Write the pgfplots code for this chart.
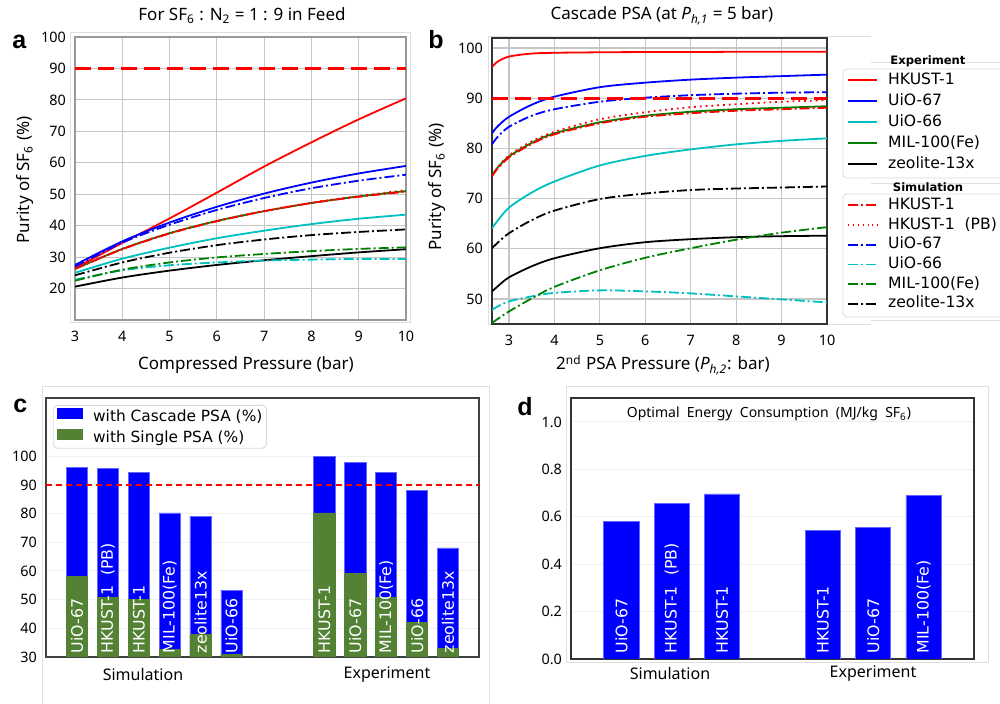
\documentclass[border=0pt]{standalone}
\usepackage{fontspec}
\setmainfont{Noto Sans}
\newfontfamily\djv{DejaVu Sans}
\newfontfamily\arialb{Liberation Sans}
\usepackage{pgfplots}
\pgfplotsset{compat=1.18}

\definecolor{mred}{RGB}{255,0,0}
\definecolor{mblue}{RGB}{0,0,255}
\definecolor{mcyan}{RGB}{0,191,191}
\definecolor{mgreen}{RGB}{0,128,0}
\definecolor{bargreen}{RGB}{84,130,53}

\newcommand{\fs}[1]{\fontsize{#1}{#1}\selectfont}

\pgfplotsset{
  every axis/.append style={
    /pgf/number format/assume math mode=true,
    tick label style={font=\fs{7.2}},
    tick style={draw=none},
  },
  dd/.style={dash pattern=on 5pt off 1.5pt on 1pt off 1.5pt},
  ln/.style={line width=0.9pt, no marks, smooth},
}
\tikzset{blab/.style={rotate=90, anchor=west, text=white, font=\djv\fs{7.9}, inner sep=0pt}}

\begin{document}
\begin{tikzpicture}[x=0.5pt,y=0.5pt]
\useasboundingbox (0,0) rectangle (1000,704);

% light frames of the sub figures
\draw[gray!25, line width=0.5pt] (70,671) rectangle (410,381);
\draw[gray!25, line width=0.5pt] (871,667) -- (488,667) -- (488,379) -- (871,379);
\draw[gray!25, line width=0.5pt] (871,641) -- (1000,641);
\draw[gray!25, line width=0.5pt] (871,520) -- (1000,520);
\draw[gray!25, line width=0.5pt] (871,383) -- (1000,383);
\draw[gray!25, line width=0.5pt] (42,-2) -- (42,317) -- (489,317) -- (489,-2);
\draw[gray!25, line width=0.5pt] (566,317) rectangle (988,41);

\coordinate (A) at (75,384);
\coordinate (B) at (492,380);
\coordinate (C) at (46,47);
\coordinate (D) at (571,45);
\coordinate (L1) at (847,631);
\coordinate (L2) at (847,506);

% ---------------- panel a
\begin{axis}[at={(A)}, anchor=south west, scale only axis,
  width=165.5pt, height=141.5pt,
  xmin=3, xmax=10, ymin=10, ymax=100,
  xtick={3,...,10}, ytick={20,30,...,100},
  grid=major, grid style={gray!45, line width=0.6pt},
  axis line style={gray!80, line width=0.6pt},
  yticklabel style={xshift=-1pt}, xticklabel style={yshift=-2pt}]
\addplot[ln, mred] coordinates {(3,26.5) (4,34.5) (5,42.3) (6,50.5) (7,58.8) (8,66.5) (9,73.8) (10,80.5)};
\addplot[ln, mblue] coordinates {(3,27.5) (4,35) (5,41) (6,46) (7,50.2) (8,53.7) (9,56.6) (10,59)};
\addplot[ln, mcyan] coordinates {(3,25) (4,29.5) (5,33) (6,36) (7,38.4) (8,40.5) (9,42.2) (10,43.5)};
\addplot[ln, mgreen] coordinates {(3,26.2) (4,32.6) (5,37.6) (6,41.5) (7,44.6) (8,47.2) (9,49.3) (10,51)};
\addplot[ln, black] coordinates {(3,20.6) (4,23.5) (5,25.7) (6,27.5) (7,29) (8,30.3) (9,31.5) (10,32.5)};
\addplot[ln, mred, dd] coordinates {(3,26.3) (4,32.5) (5,37.5) (6,41.4) (7,44.6) (8,47.2) (9,49.2) (10,50.8)};
\addplot[ln, mred, dotted] coordinates {(3,26.3) (4,32.6) (5,37.6) (6,41.5) (7,44.7) (8,47.3) (9,49.4) (10,51.3)};
\addplot[ln, mblue, dd] coordinates {(3,27) (4,34.6) (5,40.3) (6,45) (7,48.8) (8,51.9) (9,54.3) (10,56.2)};
\addplot[ln, mcyan, dd] coordinates {(3,22.8) (4,25.8) (5,27.4) (6,28.3) (7,28.9) (8,29.2) (9,29.4) (10,29.4)};
\addplot[ln, mgreen, dd] coordinates {(3,22.5) (4,26) (5,28.3) (6,29.9) (7,31) (8,31.9) (9,32.6) (10,33.1)};
\addplot[ln, black, dd] coordinates {(3,24.2) (4,28.3) (5,31.4) (6,33.8) (7,35.6) (8,37) (9,38) (10,38.8)};
\addplot[mred, line width=1.5pt, dash pattern=on 8pt off 3.5pt, no marks] coordinates {(3,90) (10,90)};
\end{axis}

% ---------------- panel b
\begin{axis}[at={(B)}, anchor=south west, scale only axis,
  width=167.5pt, height=143pt,
  xmin=2.625, xmax=10, ymin=45, ymax=102,
  xtick={3,...,10}, ytick={50,60,...,100},
  grid=major, grid style={gray!45, line width=0.6pt},
  axis line style={black!80, line width=0.6pt},
  yticklabel style={xshift=-1pt}, xticklabel style={yshift=-2pt}]
\addplot[ln, mred] coordinates {(2.625,96.2) (2.75,97.3) (3,98.3) (3.5,98.9) (4,99.05) (5,99.15) (6,99.2) (7,99.2) (8,99.25) (9,99.25) (10,99.25)};
\addplot[ln, mblue] coordinates {(2.625,83) (2.75,84.4) (3,86.3) (3.5,88.7) (4,90.3) (5,92.2) (6,93.1) (7,93.7) (8,94.1) (9,94.4) (10,94.7)};
\addplot[ln, mcyan] coordinates {(2.625,64.1) (2.75,65.6) (3,68.2) (3.5,71.2) (4,73.4) (5,76.6) (6,78.5) (7,79.8) (8,80.8) (9,81.5) (10,82.0)};
\addplot[ln, mgreen] coordinates {(2.625,74.6) (2.75,76.2) (3,78.4) (3.5,81.1) (4,83.0) (5,85.2) (6,86.5) (7,87.3) (8,87.8) (9,88.1) (10,88.4)};
\addplot[ln, black] coordinates {(2.625,51.5) (2.75,52.5) (3,54.3) (3.5,56.5) (4,58.1) (5,60.1) (6,61.3) (7,61.9) (8,62.3) (9,62.5) (10,62.6)};
\addplot[ln, mred, dd] coordinates {(2.625,74.4) (2.75,76.0) (3,78.2) (3.5,80.9) (4,82.8) (5,85.0) (6,86.3) (7,87.0) (8,87.5) (9,87.8) (10,88.1)};
\addplot[ln, mred, dotted] coordinates {(2.625,74.5) (2.75,76.2) (3,78.6) (3.5,81.4) (4,83.3) (5,85.8) (6,87.2) (7,88.2) (8,88.8) (9,89.3) (10,89.6)};
\addplot[ln, mblue, dd] coordinates {(2.625,80.8) (2.75,82.3) (3,84.3) (3.5,86.5) (4,87.8) (5,89.3) (6,90.1) (7,90.6) (8,90.9) (9,91.1) (10,91.2)};
\addplot[ln, mcyan, dd] coordinates {(2.625,47.8) (2.75,48.5) (3,49.5) (3.5,50.5) (4,51.2) (5,51.7) (6,51.5) (7,51.1) (8,50.5) (9,49.9) (10,49.3)};
\addplot[ln, mgreen, dd] coordinates {(2.625,45.2) (2.75,46.0) (3,47.5) (3.5,50.1) (4,52.4) (5,55.7) (6,58.2) (7,60.1) (8,61.8) (9,63.2) (10,64.3)};
\addplot[ln, black, dd] coordinates {(2.625,60.1) (2.75,61.2) (3,63.1) (3.5,65.7) (4,67.6) (5,69.9) (6,71.0) (7,71.7) (8,72.0) (9,72.2) (10,72.4)};
\addplot[mred, line width=1.5pt, dash pattern=on 8pt off 3.5pt, no marks] coordinates {(2.625,90) (10,90)};
\end{axis}

% legends of panel b
\pgfplotsset{blegend/.style={hide axis, scale only axis, width=1pt, height=1pt,
  xmin=0, xmax=1, ymin=0, ymax=1, anchor=north west,
  legend style={at={(0,1)}, anchor=north west, draw=none, fill=none,
    font=\djv\fs{7.8}, inner sep=0pt, column sep=5pt,
    nodes={inner sep=0pt, text height=5.5pt, text depth=1.5pt}},
  legend cell align=left,
  legend image code/.code={\draw[##1, line width=0.9pt] (0pt,0pt) -- (14.5pt,0pt);}}}
\draw[gray!30, rounded corners=2pt] (843,635) rectangle (1010,526);
\draw[gray!30, rounded corners=2pt] (843,510) rectangle (1010,387);
\node[font=\djv\bfseries\fs{5.8}] at (928,643) {Experiment};
\node[font=\djv\bfseries\fs{5.8}] at (928,517) {Simulation};
\begin{axis}[blegend, at={(L1)}, legend style={row sep=3.5pt}]
\addlegendimage{mred}\addlegendentry{HKUST-1}
\addlegendimage{mblue}\addlegendentry{UiO-67}
\addlegendimage{mcyan}\addlegendentry{UiO-66}
\addlegendimage{mgreen}\addlegendentry{MIL-100(Fe)}
\addlegendimage{black}\addlegendentry{zeolite-13x}
\end{axis}
\begin{axis}[blegend, at={(L2)}, legend style={row sep=2.85pt}]
\addlegendimage{mred, dd}\addlegendentry{HKUST-1}
\addlegendimage{mred, dotted}\addlegendentry{HKUST-1\ \ (PB)}
\addlegendimage{mblue, dd}\addlegendentry{UiO-67}
\addlegendimage{mcyan, dd}\addlegendentry{UiO-66}
\addlegendimage{mgreen, dd}\addlegendentry{MIL-100(Fe)}
\addlegendimage{black, dd}\addlegendentry{zeolite-13x}
\end{axis}

% ---------------- panel c
\begin{axis}[at={(C)}, anchor=south west, scale only axis,
  width=216.5pt, height=129.5pt,
  xmin=-1, xmax=13, ymin=30, ymax=120.3,
  xtick=\empty, ytick={30,40,...,100},
  ymajorgrids, grid style={gray!12, line width=0.5pt},
  axis line style={black!75, line width=0.6pt},
  yticklabel style={xshift=-1pt},
  legend style={at={(0.016,0.973)}, anchor=north west, draw=gray!30,
    rounded corners=2pt, font=\djv\fs{7.7}, inner xsep=2pt, inner ysep=1.25pt,
    column sep=5pt, row sep=2.3pt,
    nodes={inner sep=0pt, text height=5.5pt, text depth=1.5pt}},
  legend cell align=left]
\addplot[ybar, bar width=0.69, bar shift=0pt, fill=mblue, draw=mblue!60!white, line width=0.4pt, forget plot]
  coordinates {(0,96.2) (1,95.8) (2,94.2) (3,80.2) (4,79.1) (5,53.3) (8,99.8) (9,97.7) (10,94.2) (11,88.1) (12,68.0)};
\addplot[ybar, bar width=0.69, bar shift=0pt, fill=bargreen, draw=bargreen, line width=0.4pt, forget plot]
  coordinates {(0,58.1) (1,50.9) (2,50.0) (3,32.6) (4,37.8) (5,31.0) (8,80.2) (9,59.1) (10,50.9) (11,42.1) (12,32.9)};
\addplot[mred, line width=0.75pt, dash pattern=on 3pt off 2pt, no marks, forget plot] coordinates {(-1,90) (13,90)};
\addlegendimage{legend image code/.code={\fill[mblue, sharp corners] (0pt,-0.4pt) rectangle (12.5pt,4.6pt);}}
\addlegendentry{with Cascade PSA (\%)}
\addlegendimage{legend image code/.code={\fill[bargreen, sharp corners] (0pt,-0.4pt) rectangle (12.5pt,4.6pt);}}
\addlegendentry{with Single PSA (\%)}
\node[blab] at (axis cs:0,31.2) {UiO-67};
\node[blab] at (axis cs:1,31.2) {HKUST-1\ \ (PB)};
\node[blab] at (axis cs:2,31.2) {HKUST-1};
\node[blab] at (axis cs:3,31.2) {MIL-100(Fe)};
\node[blab] at (axis cs:4,31.2) {zeolite13x};
\node[blab] at (axis cs:5,31.2) {UiO-66};
\node[blab] at (axis cs:8,31.2) {HKUST-1};
\node[blab] at (axis cs:9,31.2) {UiO-67};
\node[blab] at (axis cs:10,31.2) {MIL-100(Fe)};
\node[blab] at (axis cs:11,31.2) {UiO-66};
\node[blab] at (axis cs:12,31.2) {zeolite13x};
\end{axis}
\node[font=\fs{8}] at (143,29) {Simulation};
\node[font=\fs{8}] at (387,29) {Experiment};

% ---------------- panel d
\begin{axis}[at={(D)}, anchor=south west, scale only axis,
  width=201.5pt, height=130.5pt,
  xmin=-1, xmax=7, ymin=0, ymax=1.101,
  xtick=\empty, ytick={0,0.2,...,1.0},
  yticklabel style={xshift=-1pt, /pgf/number format/.cd, fixed, fixed zerofill, precision=1},
  ymajorgrids, grid style={gray!12, line width=0.5pt},
  axis line style={black!80, line width=0.6pt}]
\addplot[ybar, bar width=0.7, bar shift=0pt, fill=mblue, draw=mblue!60!white, line width=0.4pt]
  coordinates {(0,0.579) (1,0.658) (2,0.696) (4,0.543) (5,0.553) (6,0.688)};
\node[blab] at (axis cs:0,0.022) {UiO-67};
\node[blab] at (axis cs:1,0.022) {HKUST-1\ \ (PB)};
\node[blab] at (axis cs:2,0.022) {HKUST-1};
\node[blab] at (axis cs:4,0.022) {HKUST-1};
\node[blab] at (axis cs:5,0.022) {UiO-67};
\node[blab] at (axis cs:6,0.022) {MIL-100(Fe)};
\end{axis}
\node[font=\fs{7}] at (769,290) {Optimal\ \ Energy\ \ Consumption\ \ (MJ/kg\ \ SF\textsubscript{6})};
\node[font=\fs{8}] at (670,30) {Simulation};
\node[font=\fs{8}] at (873,30) {Experiment};

% ---------------- titles and labels
\node[font=\fs{8.5}] at (242,688) {For SF\textsubscript{6} : N\textsubscript{2} = 1 : 9 in Feed};
\node[font=\fs{8.5}, rotate=90] at (25,524) {Purity of SF\textsubscript{6} (\%)};
\node[font=\fs{8.5}] at (246,339) {Compressed Pressure (bar)};
\node[font=\fs{8.5}] at (662,688) {Cascade PSA (at \textit{P}\textsubscript{\textit{h,1}} = 5 bar)};
\node[font=\fs{8.5}, rotate=90] at (437,517) {Purity of SF\textsubscript{6} (\%)};
\node[font=\fs{8.5}] at (663,339) {2\textsuperscript{nd} PSA Pressure (\textit{P}\textsubscript{\textit{h,2}}: bar)};

\node[font=\arialb\bfseries\fs{12.5}, anchor=base west, inner sep=0pt] at (12,655) {a};
\node[font=\arialb\bfseries\fs{12.5}, anchor=base west, inner sep=0pt] at (428,655) {b};
\node[font=\arialb\bfseries\fs{12.5}, anchor=base west, inner sep=0pt] at (13,291) {c};
\node[font=\arialb\bfseries\fs{12.5}, anchor=base west, inner sep=0pt] at (517,288) {d};
\end{tikzpicture}
\end{document}
